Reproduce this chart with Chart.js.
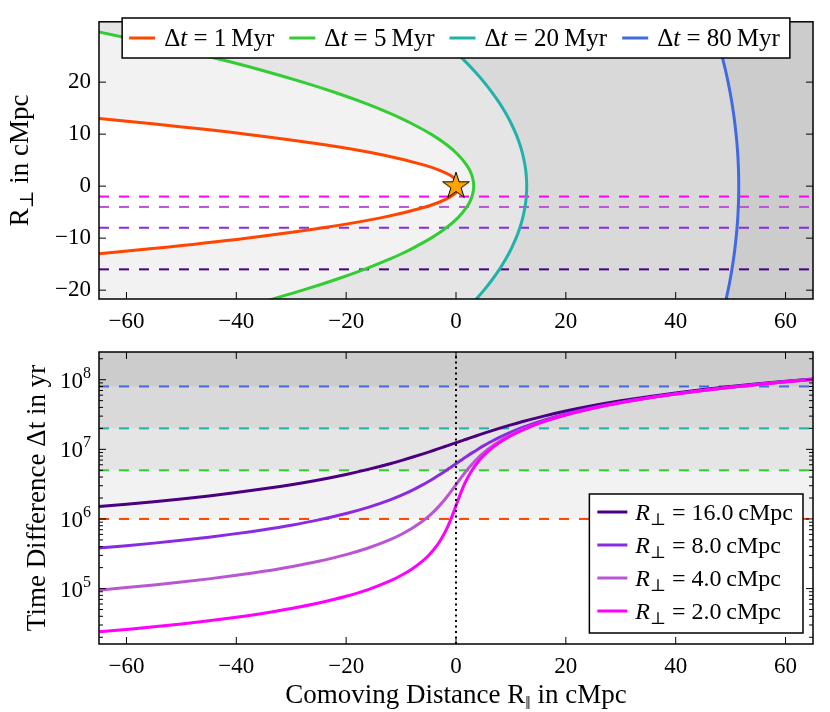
<!DOCTYPE html>
<html lang="en">
<head>
<meta charset="UTF-8">
<title>Light-cone time difference</title>
<style>
  body { margin: 0; background: #fff; }
  #wrap { position: relative; width: 830px; height: 712px; }
  canvas { position: absolute; left: 0; }
  #topChart { top: 0; }
  #bottomChart { top: 340px; }
</style>
</head>
<body>
<div id="wrap">
  <canvas id="topChart" width="830" height="340"></canvas>
  <canvas id="bottomChart" width="830" height="372"></canvas>
</div>
<script src="https://cdn.jsdelivr.net/npm/chart.js"></script>
<script>
// ---------- data ----------
// top panel: R_par (cMpc) of each light-cone contour, sampled at R_perp (cMpc)
var rPerpGrid = [-22, -20, -18, -16, -14, -13, -12, -10, -8, -6, -4, -3, -2, -1, -0.5, 0,
    0.5, 1, 2, 3, 4, 6, 8, 10, 12, 13, 14, 16, 18, 20, 22, 24, 26, 28, 30, 32];
var rPar1Myr = [null, null, null, null, null, -65.0, -55.3, -38.2, -24.2, -13.3, -5.57, -2.85, -0.91, 0.26, 0.55, 0.64,
    0.55, 0.26, -0.91, -2.85, -5.57, -13.3, -24.2, -38.2, -55.3, -65.0, null, null, null, null, null, null, null, null, null, null];
var rPar5Myr = [-34.4, -27.9, -22.0, -16.7, -12.0, -9.9, -8.0, -4.55, -1.75, 0.42, 1.97, 2.52, 2.91, 3.14, 3.20, 3.22,
    3.20, 3.14, 2.91, 2.52, 1.97, 0.42, -1.75, -4.55, -8.0, -9.9, -12.0, -16.7, -22.0, -27.9, -34.4, -41.5, -49.3, -57.7, -66.7, -76.4];
var rPar20Myr = [3.47, 5.10, 6.58, 7.90, 9.06, 9.59, 10.07, 10.93, 11.63, 12.17, 12.56, 12.70, 12.79, 12.85, 12.87, 12.87,
    12.87, 12.85, 12.79, 12.70, 12.56, 12.17, 11.63, 10.93, 10.07, 9.59, 9.06, 7.90, 6.58, 5.10, 3.47, 1.68, -0.26, -2.36, -4.61, -7.02];
var rPar80Myr = [49.13, 49.54, 49.91, 50.24, 50.53, 50.66, 50.78, 50.99, 51.17, 51.31, 51.40, 51.44, 51.46, 51.48, 51.48, 51.48,
    51.48, 51.48, 51.46, 51.44, 51.40, 51.31, 51.17, 50.99, 50.78, 50.66, 50.53, 50.24, 49.91, 49.54, 49.13, 48.68, 48.20, 47.67, 47.11, 46.51];
var contourTimes = [1, 5, 20, 80];   // Myr
var sightlines = [16, 8, 4, 2];      // R_perp of the sightlines, cMpc

// bottom panel: time difference (Myr) along each sightline, sampled at R_par (cMpc)
var rParGrid = [-65, -60, -55, -50, -45, -40, -35, -30, -25, -20, -16, -12, -10, -8, -6, -5, -4, -3, -2, -1.5, -1, -0.5, 0,
    0.5, 1, 1.5, 2, 3, 4, 5, 6, 8, 10, 12, 16, 20, 25, 30, 35, 40, 45, 50, 55, 60, 65];
var dt16 = [1.508, 1.629, 1.772, 1.941, 2.144, 2.394, 2.707, 3.108, 3.638, 4.361, 5.149, 6.216, 6.890, 7.683, 8.615, 9.137,
    9.705, 10.32, 10.97, 11.32, 11.68, 12.05, 12.43, 12.83, 13.23, 13.65, 14.08, 14.98, 15.92, 16.91, 17.94, 20.12, 22.43,
    24.86, 30.02, 35.44, 42.49, 49.73, 57.09, 64.55, 72.07, 79.64, 87.24, 94.87, 102.5];
var dt8 = [0.3811, 0.4126, 0.4497, 0.4941, 0.5482, 0.6155, 0.7014, 0.8145, 0.9703, 1.197, 1.467, 1.882, 2.180, 2.575, 3.108,
    3.445, 3.842, 4.308, 4.853, 5.159, 5.487, 5.840, 6.216, 6.617, 7.041, 7.490, 7.961, 8.970, 10.06, 11.22, 12.43, 15.00,
    17.72, 20.53, 26.33, 32.28, 39.82, 47.44, 55.09, 62.77, 70.48, 78.20, 85.92, 93.65, 101.4];
var dt4 = [0.09554, 0.1035, 0.1129, 0.1241, 0.1379, 0.1550, 0.1770, 0.2063, 0.2471, 0.3077, 0.3826, 0.5043, 0.5985, 0.7337,
    0.9410, 1.090, 1.287, 1.554, 1.921, 2.154, 2.427, 2.744, 3.108, 3.521, 3.981, 4.485, 5.029, 6.216, 7.503, 8.860, 10.27,
    13.17, 16.14, 19.15, 25.24, 31.39, 39.10, 46.83, 54.57, 62.32, 70.07, 77.82, 85.59, 93.34, 101.1];
var dt2 = [0.02390, 0.02589, 0.02825, 0.03107, 0.03452, 0.03883, 0.04436, 0.05174, 0.06206, 0.07751, 0.09675, 0.1286, 0.1539,
    0.1913, 0.2522, 0.2993, 0.3669, 0.4705, 0.6437, 0.777, 0.9604, 1.213, 1.554, 1.990, 2.514, 3.108, 3.752, 5.133, 6.583,
    8.069, 9.577, 12.62, 15.69, 18.78, 24.96, 31.16, 38.91, 46.67, 54.43, 62.20, 69.96, 77.73, 85.50, 93.27, 101.0];

var xTicks = [-60, -40, -20, 0, 20, 40, 60];
var yTicksTop = [-20, -10, 0, 10, 20];
var yTicksBottom = [1e5, 1e6, 1e7, 1e8];

var X_MIN = -65, X_MAX = 65;
var YT_MIN = -21.7, YT_MAX = 31.6;
var YB_MIN = 1.6e4, YB_MAX = 2.5e8;

// ---------- styles ----------
var timeColors = ['#ff4500', '#32cd32', '#20b2aa', '#4169e1'];
var perpColors = ['#4b0082', '#8a2be2', '#ba55d3', '#ff00ff'];
var shades = ['#ffffff', '#f2f2f2', '#e5e5e5', '#d9d9d9', '#cccccc'];
var SERIF = "'Liberation Serif', 'DejaVu Serif', serif";
var TICK = 23, LEG_TOP = 25, LEG = 24, LEG_SUB = 17, TITLE = 27, TITLE_SUB = 19, EXP = 16;

function setFont(ctx, size, italic) {
    ctx.font = (italic ? 'italic ' : '') + size + 'px ' + SERIF;
}
function richWidth(ctx, parts) {
    var w = 0;
    parts.forEach(function (p) { setFont(ctx, p.s, p.i); w += ctx.measureText(p.t).width; });
    return w;
}
function drawRich(ctx, parts, x, y, align) {
    var w = richWidth(ctx, parts);
    var cx = align === 'center' ? x - w / 2 : (align === 'right' ? x - w : x);
    ctx.textAlign = 'left';
    ctx.textBaseline = 'alphabetic';
    parts.forEach(function (p) {
        setFont(ctx, p.s, p.i);
        ctx.fillText(p.t, cx, y + (p.dy || 0));
        cx += ctx.measureText(p.t).width;
    });
}
function fmtTick(v) {
    return v < 0 ? '\u2212' + Math.abs(v) : String(v);
}

function makeStar(r) {
    var c = document.createElement('canvas');
    var s = Math.ceil(r * 2 + 4);
    c.width = s; c.height = s;
    var g = c.getContext('2d');
    g.beginPath();
    for (var i = 0; i < 10; i++) {
        var rr = i % 2 ? r * 0.382 : r;
        var ang = -Math.PI / 2 + i * Math.PI / 5;
        g.lineTo(s / 2 + rr * Math.cos(ang), s / 2 + rr * Math.sin(ang));
    }
    g.closePath();
    g.fillStyle = '#ffa500';
    g.fill();
    g.lineWidth = 1;
    g.strokeStyle = '#000';
    g.stroke();
    return c;
}

function linAxis(min, max, ticksArr, size, isX) {
    return {
        type: 'linear', min: min, max: max,
        grid: { display: false, drawTicks: false }, border: { display: false },
        ticks: { color: '#000', font: { family: SERIF, size: TICK }, padding: isX ? 9 : 8, callback: fmtTick, maxRotation: 0, autoSkip: false },
        afterBuildTicks: function (s) { s.ticks = ticksArr.map(function (v) { return { value: v }; }); },
        afterFit: function (s) { if (isX) { s.height = size; } else { s.width = size; } }
    };
}

// background of the plot area
var paintArea = {
    id: 'paintArea',
    beforeDraw: function (chart, args, o) {
        var a = chart.chartArea, ctx = chart.ctx;
        ctx.save();
        ctx.fillStyle = o.color;
        ctx.fillRect(a.left, a.top, a.right - a.left, a.bottom - a.top);
        ctx.restore();
    }
};

// inward ticks on all four sides + frame
var frameTicks = {
    id: 'frameTicks',
    afterDatasetsDraw: function (chart, args, o) {
        var ctx = chart.ctx, a = chart.chartArea, sx = chart.scales.x, sy = chart.scales.y;
        ctx.save();
        ctx.strokeStyle = '#000';
        ctx.lineWidth = 1;
        ctx.beginPath();
        (o.xMajor || []).forEach(function (v) {
            var p = sx.getPixelForValue(v);
            ctx.moveTo(p, a.bottom); ctx.lineTo(p, a.bottom - 7);
            ctx.moveTo(p, a.top); ctx.lineTo(p, a.top + 7);
        });
        [[o.yMajor || [], 7], [o.yMinor || [], 4]].forEach(function (set) {
            set[0].forEach(function (v) {
                var p = sy.getPixelForValue(v);
                ctx.moveTo(a.left, p); ctx.lineTo(a.left + set[1], p);
                ctx.moveTo(a.right, p); ctx.lineTo(a.right - set[1], p);
            });
        });
        ctx.stroke();
        ctx.lineWidth = 1.5;
        ctx.strokeRect(a.left, a.top, a.right - a.left, a.bottom - a.top);
        ctx.restore();
    }
};

// ---------- top panel ----------
var parTop = [rPar1Myr, rPar5Myr, rPar20Myr, rPar80Myr];
var topSets = [];
topSets.push({ data: [{ x: 0, y: 0 }], showLine: false, pointStyle: makeStar(14), pointRadius: 14, order: 0 });
contourTimes.forEach(function (t, i) {
    topSets.push({
        data: rPerpGrid.map(function (y, j) { return { x: parTop[i][j], y: y }; }),
        borderColor: timeColors[i], borderWidth: 3, backgroundColor: shades[i],
        fill: { value: X_MIN }, cubicInterpolationMode: 'monotone', pointRadius: 0, order: 2 + i
    });
});
sightlines.forEach(function (r, i) {
    topSets.push({
        data: [{ x: X_MIN, y: -r }, { x: X_MAX, y: -r }],
        borderColor: perpColors[i], borderWidth: 2, borderDash: [10, 10], fill: false, pointRadius: 0, order: 10
    });
});

var topText = {
    id: 'topText',
    afterDraw: function (chart) {
        var ctx = chart.ctx, a = chart.chartArea;
        ctx.save();
        ctx.fillStyle = '#000';
        ctx.translate(28, (a.top + a.bottom) / 2);
        ctx.rotate(-Math.PI / 2);
        drawRich(ctx, [{ t: 'R', s: TITLE }, { t: '\u22a5', s: TITLE_SUB, dy: 5 }, { t: ' in cMpc', s: TITLE }], 0, 0, 'center');
        ctx.restore();

        // legend, upper center
        ctx.save();
        var items = contourTimes.map(function (t, i) {
            return { color: timeColors[i], parts: [{ t: '\u0394', s: LEG_TOP }, { t: 't', s: LEG_TOP, i: true }, { t: ' = ' + t + '\u2009Myr', s: LEG_TOP }] };
        });
        var widths = items.map(function (it) { return richWidth(ctx, it.parts); });
        var total = 7 + 10 - 15;
        widths.forEach(function (w) { total += 26 + 9 + w + 15; });
        var left = (a.left + a.right) / 2 - total / 2, top = 18, h = 40;
        ctx.fillStyle = '#fff';
        ctx.fillRect(left, top, total, h);
        ctx.strokeStyle = '#000';
        ctx.lineWidth = 1.5;
        ctx.strokeRect(left, top, total, h);
        var x = left + 7, cy = top + h / 2;
        items.forEach(function (it, i) {
            ctx.strokeStyle = it.color;
            ctx.lineWidth = 3;
            ctx.beginPath(); ctx.moveTo(x, cy); ctx.lineTo(x + 26, cy); ctx.stroke();
            ctx.fillStyle = '#000';
            drawRich(ctx, it.parts, x + 35, cy + 8, 'left');
            x += 26 + 9 + widths[i] + 15;
        });
        ctx.restore();
    }
};

new Chart(document.getElementById('topChart'), {
    type: 'line',
    data: { datasets: topSets },
    options: {
        responsive: false, animation: false, events: [],
        indexAxis: 'y',
        layout: { padding: { left: 0, right: 17, top: 7, bottom: 0 } },
        scales: {
            x: linAxis(X_MIN, X_MAX, xTicks, 41, true),
            y: linAxis(YT_MIN, YT_MAX, yTicksTop, 99, false)
        },
        plugins: {
            legend: { display: false }, tooltip: { enabled: false },
            filler: { drawTime: 'beforeDatasetsDraw' },
            paintArea: { color: shades[4] },
            frameTicks: { xMajor: xTicks, yMajor: yTicksTop }
        }
    },
    plugins: [paintArea, frameTicks, topText]
});

// ---------- bottom panel ----------
var dtCurves = [dt16, dt8, dt4, dt2];
var minorLog = [];
for (var k = 4; k <= 8; k++) {
    for (var m = 2; m <= 9; m++) {
        var v = m * Math.pow(10, k);
        if (v > YB_MIN && v < YB_MAX) minorLog.push(v);
    }
}
var bottomSets = [];
bottomSets.push({
    data: [{ x: 0, y: YB_MIN }, { x: 0, y: YB_MAX }],
    borderColor: '#000', borderWidth: 2, borderDash: [2, 3.5], fill: false, pointRadius: 0, order: 0
});
sightlines.forEach(function (r, i) {
    bottomSets.push({
        data: rParGrid.map(function (x, j) { return { x: x, y: dtCurves[i][j] * 1e6 }; }),
        borderColor: perpColors[i], borderWidth: 3, fill: false,
        cubicInterpolationMode: 'monotone', pointRadius: 0, order: 4 - i
    });
});
contourTimes.forEach(function (t, i) {
    bottomSets.push({
        data: [{ x: X_MIN, y: t * 1e6 }, { x: X_MAX, y: t * 1e6 }],
        borderColor: timeColors[i], borderWidth: 2, borderDash: [10, 10],
        fill: 'end', backgroundColor: shades[i + 1], pointRadius: 0, order: 8 - i
    });
});

var bottomText = {
    id: 'bottomText',
    afterDraw: function (chart) {
        var ctx = chart.ctx, a = chart.chartArea, sy = chart.scales.y;
        ctx.save();
        ctx.fillStyle = '#000';
        // log tick labels
        yTicksBottom.forEach(function (v) {
            var p = sy.getPixelForValue(v);
            var e = String(Math.round(Math.log10(v)));
            drawRich(ctx, [{ t: '10', s: TICK }, { t: e, s: EXP, dy: -10 }], a.left - 8, p + 8, 'right');
        });
        // x title
        drawRich(ctx, [{ t: 'Comoving Distance R', s: TITLE }, { t: '\u2016', s: TITLE_SUB, dy: 6 }, { t: ' in cMpc', s: TITLE }],
            (a.left + a.right) / 2, 363, 'center');
        ctx.restore();

        ctx.save();
        ctx.fillStyle = '#000';
        ctx.translate(45, (a.top + a.bottom) / 2);
        ctx.rotate(-Math.PI / 2);
        drawRich(ctx, [{ t: 'Time Difference \u0394t in yr', s: TITLE }], 0, 0, 'center');
        ctx.restore();

        // legend, lower right
        ctx.save();
        var items = sightlines.map(function (r, i) {
            return { color: perpColors[i], parts: [{ t: 'R', s: LEG, i: true }, { t: '\u22a5', s: LEG_SUB, dy: 5 }, { t: ' = ' + r.toFixed(1) + '\u2009cMpc', s: LEG }] };
        });
        var wMax = 0;
        items.forEach(function (it) { wMax = Math.max(wMax, richWidth(ctx, it.parts)); });
        var w = 8 + 30 + 8 + wMax + 10, h = 18 + 33 * 3 + 22;
        var right = a.right - 10, bottom = a.bottom - 11;
        var left = right - w, top = bottom - h;
        ctx.fillStyle = '#fff';
        ctx.fillRect(left, top, w, h);
        ctx.strokeStyle = '#000';
        ctx.lineWidth = 1.5;
        ctx.strokeRect(left, top, w, h);
        items.forEach(function (it, i) {
            var cy = top + 18 + 33 * i;
            ctx.strokeStyle = it.color;
            ctx.lineWidth = 3;
            ctx.beginPath(); ctx.moveTo(left + 8, cy); ctx.lineTo(left + 38, cy); ctx.stroke();
            ctx.fillStyle = '#000';
            drawRich(ctx, it.parts, left + 46, cy + 8, 'left');
        });
        ctx.restore();
    }
};

var yLog = {
    type: 'logarithmic', min: YB_MIN, max: YB_MAX,
    grid: { display: false, drawTicks: false }, border: { display: false },
    ticks: { display: false },
    afterFit: function (s) { s.width = 99; }
};

new Chart(document.getElementById('bottomChart'), {
    type: 'line',
    data: { datasets: bottomSets },
    options: {
        responsive: false, animation: false, events: [],
        layout: { padding: { left: 0, right: 17, top: 12, bottom: 0 } },
        scales: {
            x: linAxis(X_MIN, X_MAX, xTicks, 68, true),
            y: yLog
        },
        plugins: {
            legend: { display: false }, tooltip: { enabled: false },
            filler: { drawTime: 'beforeDatasetsDraw' },
            paintArea: { color: shades[0] },
            frameTicks: { xMajor: xTicks, yMajor: yTicksBottom, yMinor: minorLog }
        }
    },
    plugins: [paintArea, frameTicks, bottomText]
});
</script>
</body>
</html>
